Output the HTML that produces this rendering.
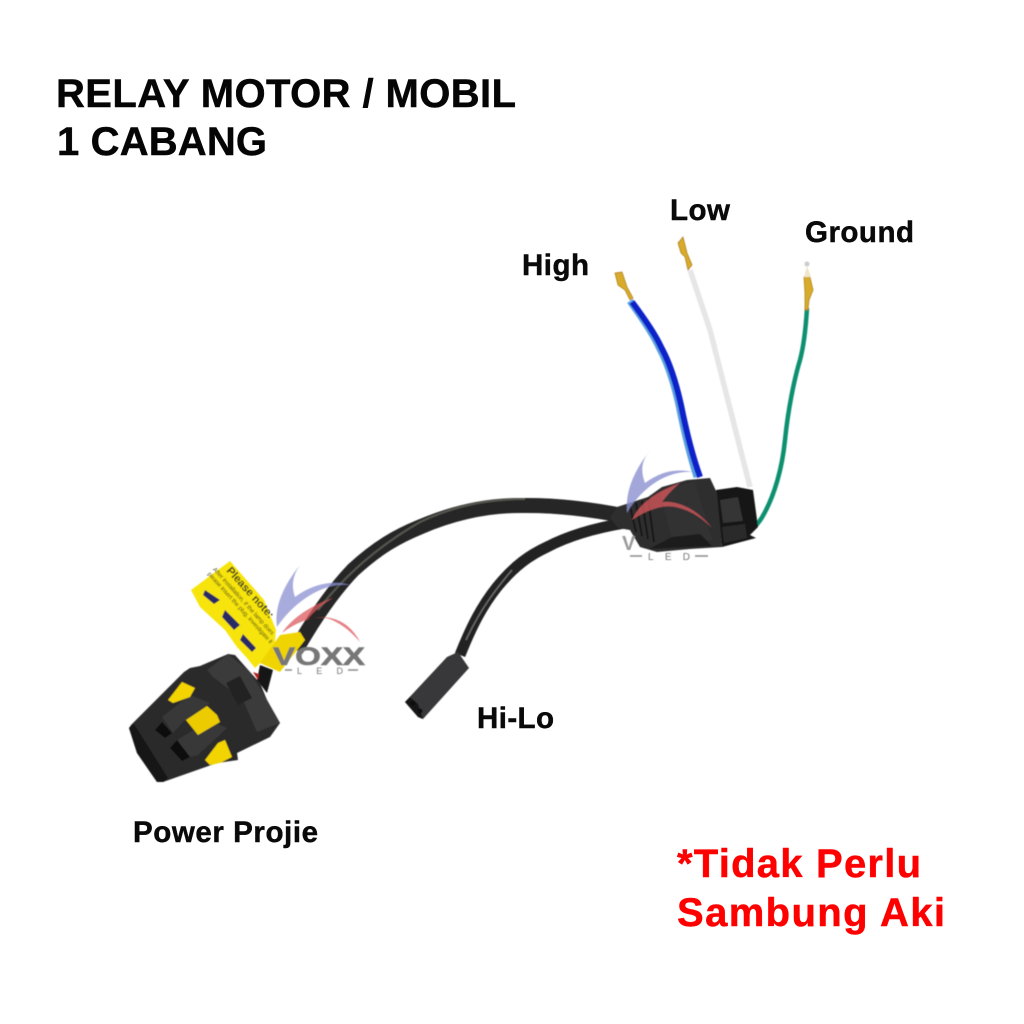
<!DOCTYPE html>
<html><head><meta charset="utf-8"><style>html,body{margin:0;padding:0;background:#fff;width:1024px;height:1024px;overflow:hidden}svg{display:block}text{font-family:"Liberation Sans",sans-serif;font-weight:bold}.k{stroke-width:.45;stroke:currentColor}</style></head><body>
<svg width="1024" height="1024" viewBox="0 0 1024 1024" xmlns="http://www.w3.org/2000/svg">
<defs><filter id="b"><feGaussianBlur stdDeviation="0.5"/></filter></defs>
<rect width="1024" height="1024" fill="#fff"/>
<g class="k" style="color:#050505">
<text x="56" y="107" font-size="40" fill="#050505" textLength="460" lengthAdjust="spacing">RELAY MOTOR / MOBIL</text>
<text x="57" y="155" font-size="40" fill="#050505" textLength="210" lengthAdjust="spacing">1 CABANG</text>
<text x="522" y="275" font-size="29.500" fill="#0a0a0a" textLength="67" lengthAdjust="spacing">High</text>
<text x="670" y="220" font-size="29.500" fill="#0a0a0a" textLength="60" lengthAdjust="spacing">Low</text>
<text x="805" y="242" font-size="29.500" fill="#0a0a0a" textLength="109" lengthAdjust="spacing">Ground</text>
<text x="477" y="728" font-size="29.500" fill="#0a0a0a" textLength="77" lengthAdjust="spacing">Hi-Lo</text>
<text x="133" y="842" font-size="29.500" fill="#0a0a0a" textLength="185" lengthAdjust="spacing">Power Projie</text>
</g>
<g class="k" style="color:#ff0000">
<text x="677" y="877" font-size="40" fill="#ff0000" textLength="244" lengthAdjust="spacing">*Tidak Perlu</text>
<text x="677" y="926" font-size="40" fill="#ff0000" textLength="268" lengthAdjust="spacing">Sambung Aki</text>
</g>

<g filter="url(#b)">
<!-- cables -->
<path d="M296 650C312 622 332 592 353 570C378 547 398 536 420 527C455 512 490 505 523 505.500C560 505 595 510 625 516" fill="none" stroke="#262626" stroke-width="15"/>
<path d="M318 610C345 575 380 545 420 522C460 503 495 499 525 499" fill="none" stroke="#55564f" stroke-width="2"/>
<path d="M460 655C472 625 482 606 497 587C515 565 530 555 547 547C570 535 595 528 625 523" fill="none" stroke="#222" stroke-width="11"/>
<path d="M466 640C480 610 495 590 512 570" fill="none" stroke="#6a6a6a" stroke-width="1.500"/>

<!-- wires -->
<path d="M690 270L710 330L750 487" stroke="#e6e6e6" stroke-width="5.500" fill="none"/>
<path d="M630 301C645 322 655 338 659 347C669 365 675 387 679 405C684 430 690 455 697 477" fill="none" stroke="#5aa0e0" stroke-width="7"/>
<path d="M632 302C647 322 657 338 661 347C671 365 677 387 681 405C686 430 692 455 700 477" fill="none" stroke="#0a20c8" stroke-width="6"/>
<path d="M807 308C806 325 804 345 800 360C794 380 788 410 785 440C782 470 774 495 765 512C760 522 754 528 750 531" fill="none" stroke="#0f9070" stroke-width="4.500"/>
<!-- terminals -->
<g fill="#d8ab2a" stroke="#a87512" stroke-width="0.700">
<path d="M615 273L622 272L627 287L633 298L630 300L625 290L618 285Z"/>
<path d="M678 243L683 237L687 253L692 265L688 270L685 257L681 253Z"/>
<path d="M804 277L809 273L813 290L809 300L808 310L805 310L805 293Z"/>
</g>
<circle cx="807" cy="264" r="2.500" fill="#ccc"/>
<path d="M807 266L804 277H811Z" fill="#f0e6c8"/>

<!-- relay -->
<path d="M716 490L737 487L753 490L758 527L750 535L756 538L722 547Z" fill="#161616"/>
<path d="M720 500L738 497L743 521L723 523Z" fill="#343434"/>
<path d="M722 527L745 524L747 538L724 543Z" fill="#2c2c2c"/>
<path d="M662 487L687 480L710 478L717 493L722 547L690 549L657 552L640 547L630 530L618 528L610 518L617 507L648 497Z" fill="#2e2e2e"/>
<path d="M660 490L695 482L712 540L672 540Z" fill="#333"/>
<g stroke="#141414" stroke-width="1.800" fill="none"><path d="M630 506L636 532"/><path d="M636 503L642 536"/><path d="M642 501L648 539"/><path d="M648 498L654 542"/></g>
<path d="M649 549L672 537L700 534L712 546Z" fill="#1d1d1d"/>

<!-- tag -->
<path d="M191 590L230 561L264 600L276 630L274 650L255 668L247 658L237 647L225 630L200 607Z" fill="#f7e40a"/>
<path d="M280 635L300 632L305 640L280 672L260 663Z" fill="#efd400"/>
<g fill="#2a2a66"><path d="M205 590L220 600L214 604L203 595Z"/><path d="M225 610L240 625L234 630L222 617Z"/><path d="M243 634L256 648L252 652L240 640Z"/></g>
<g transform="translate(226 571) rotate(48)">
<text x="0" y="0" style="font-size:11px" fill="#33331a">Please note:</text>
<text x="-10" y="9" style="font-size:6px;font-weight:normal" fill="#44441a">After installation, if the lamp does</text>
<text x="-10" y="16" style="font-size:6px;font-weight:normal" fill="#44441a">please insert the plug, investigate it</text>
</g>
<path d="M260 665L273 670L267 693L257 680Z" fill="#151515"/>
<path d="M253 672L259 674L258 680Z" fill="#b02020"/>

<!-- power connector -->
<path d="M129 728L131 725L184 672L190 668L200 666L228 654L235 655L250 672L260 683L267 700L280 723L270 737L237 753L238 760L217 763L163 782L157 782L137 753Z" fill="#2a2a2a"/>
<path d="M207 670L228 654L250 672L267 700L280 723L257 732L243 700L213 677Z" fill="#3a3a3a"/>
<path d="M162 717L190 695L210 703L183 722L173 733Z" fill="#383838"/>
<path d="M177 740L210 720L227 728L198 755L190 757Z" fill="#383838"/>
<path d="M129 728L134 724L168 778L163 782L157 782L137 753Z" fill="#141414"/>
<path d="M168 700L182 682L195 688L190 697L173 703Z" fill="#f3d400"/>
<path d="M186 720L207 706L217 715L220 722L198 735Z" fill="#eccc00"/>
<path d="M205 760L218 743L225 740L232 757L220 763L210 765Z" fill="#f3d400"/>
<path d="M155 730L162 722L172 733L165 738Z M170 748L177 740L190 757L182 761Z" fill="#111"/>
<path d="M226 683L240 676L252 698L238 705Z" fill="#222"/>

<!-- hi-lo connector -->
<path d="M447 657L458 652L469 668L423 719L418 717L405 702Z" fill="#38383a"/>
<path d="M405 702L418 717L423 719L418 704L410 697Z" fill="#181818"/>
<circle cx="413" cy="703" r="2.500" fill="#0c0c0c"/><circle cx="420" cy="711" r="2.500" fill="#0c0c0c"/>

<!-- watermark 1 -->
<path d="M300 565C284 585 274 606 277 627C292 605 320 582 350 585C330 579 310 586 295 597C291 585 293 575 300 565Z" fill="#8b90d0" fill-opacity=".75"/>
<path d="M333 598C310 606 292 618 282 633C300 620 318 614 332 620C345 626 353 634 360 642C350 622 330 612 307 620C315 610 324 603 333 598Z" fill="#dc5a5e" fill-opacity=".75"/>
<text x="273" y="665" style="font-size:25px;stroke:#777;stroke-width:.6" fill="#777" textLength="92" lengthAdjust="spacingAndGlyphs">VOXX</text>
<path d="M285 670H292M348 670H358" stroke="#8a8a8a" stroke-width="1.500"/>
<text x="297" y="674" style="font-size:9px;font-weight:normal" fill="#777" textLength="46">LED</text>

<!-- watermark 2 -->
<path d="M650 450C635 470 625 490 627 513C640 490 665 470 693 472C675 468 660 472 645 483C640 470 642 460 650 450Z" fill="#8b90d0" fill-opacity=".8"/>
<path d="M680 483C655 492 638 505 632 520C650 508 665 505 675 507C690 510 702 518 712 528C700 512 680 500 662 502C668 494 674 488 680 483Z" fill="#dc5a5e" fill-opacity=".75"/>
<text x="622" y="550" style="font-size:20px" fill="#9a9a9a">V</text>
<path d="M630 556H642M695 556H708" stroke="#8a8a8a" stroke-width="1.500"/>
<text x="648" y="560" style="font-size:10px;font-weight:normal" fill="#777" textLength="42">LED</text>
</g>
</svg>
</body></html>
